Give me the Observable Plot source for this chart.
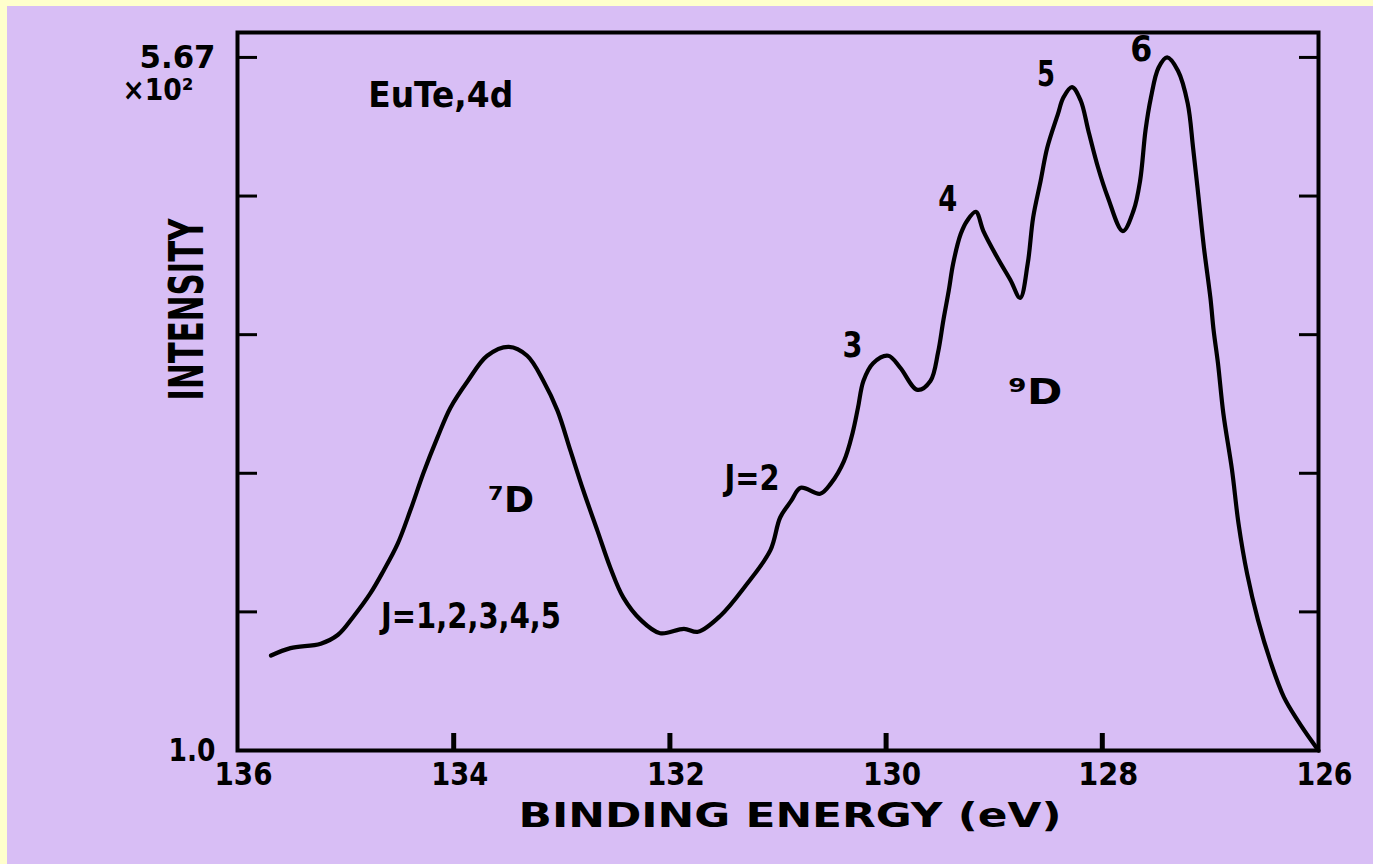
<!DOCTYPE html>
<html><head><meta charset="utf-8">
<script src="https://cdn.jsdelivr.net/npm/d3@7"></script>
<script src="https://cdn.jsdelivr.net/npm/@observablehq/plot@0.6"></script>
<style>
html,body{margin:0;padding:0;background:#ffffcc;overflow:hidden;}
#chart{position:absolute;left:7px;top:6px;width:1366px;height:858px;background:#d8bef5;}
</style></head><body><div id="chart"></div>
<script>
// Binding energy (eV) and intensity (×10², axis from 1.0 to 5.67)
const energy = [135.69,135.51,135.23,135.07,134.93,134.77,134.65,134.52,134.40,134.28,134.15,134.03,133.87,133.69,133.49,133.32,133.17,133.04,132.92,132.80,132.67,132.55,132.43,132.27,132.09,131.87,131.74,131.53,131.30,131.07,130.98,130.88,130.79,130.61,130.51,130.39,130.31,130.26,130.21,130.12,129.98,129.87,129.71,129.59,129.52,129.47,129.42,129.38,129.31,129.25,129.17,129.10,128.97,128.85,128.76,128.69,128.64,128.57,128.51,128.41,128.36,128.28,128.20,128.13,128.04,127.95,127.81,127.71,127.65,127.60,127.55,127.48,127.40,127.30,127.21,127.16,127.11,127.06,127.00,126.97,126.93,126.88,126.80,126.74,126.66,126.56,126.44,126.32,126.19,126.05,126.00];
const intensity = [1.64,1.69,1.72,1.78,1.90,2.06,2.21,2.39,2.62,2.87,3.11,3.31,3.49,3.66,3.72,3.66,3.49,3.29,3.02,2.75,2.48,2.23,2.03,1.88,1.79,1.82,1.80,1.91,2.11,2.35,2.57,2.68,2.77,2.73,2.80,2.95,3.14,3.31,3.49,3.61,3.66,3.58,3.43,3.49,3.68,3.90,4.10,4.28,4.48,4.57,4.63,4.50,4.32,4.17,4.05,4.28,4.59,4.84,5.06,5.29,5.40,5.47,5.38,5.18,4.93,4.73,4.50,4.64,4.84,5.18,5.40,5.60,5.67,5.58,5.36,5.06,4.73,4.39,4.05,3.83,3.61,3.27,2.89,2.53,2.19,1.88,1.59,1.36,1.20,1.05,1.00];

const xTickMarks = [134, 132, 130, 128];
const xTickLabels = [136, 134, 132, 130, 128, 126];
const yTickMarks = [1.934, 2.868, 3.802, 4.736, 5.67];
const yLabelValues = [1.0, 5.67];
const yLabelTexts = ["1.0", "5.67"];
const yUnitText = "×10²";
const xTitle = "BINDING ENERGY (eV)";
const yTitle = "INTENSITY";

const annText = ["EuTe,4d", "6", "5", "4", "3", "J=2", "⁹D", "⁷D", "J=1,2,3,4,5"];
const annX = [134.12, 127.64, 128.52, 129.43, 130.31, 131.24, 128.62, 133.47, 133.84];
const annY = [5.41, 5.72, 5.55, 4.71, 3.73, 2.83, 3.41, 2.68, 1.90];

const spectrum = energy.map((e, i) => ({e, v: intensity[i]}));
const notes = annText.map((t, i) => ({t, x: annX[i], y: annY[i]}));

const svg = Plot.plot({
  width: 1366, height: 858,
  marginLeft: 230, marginRight: 55, marginTop: 26, marginBottom: 114,
  style: {background: "#d8bef5", fontFamily: "DejaVu Sans", color: "black"},
  x: {domain: [136, 126]},
  y: {domain: [1.0, 5.838]},
  marks: [
    Plot.frame({stroke: "black", strokeWidth: 4}),
    // inward ticks
    Plot.axisY({anchor: "left", ticks: yTickMarks, tickSize: 20, dx: 20, strokeWidth: 3, tickFormat: () => "", label: null}),
    Plot.axisY({anchor: "right", ticks: yTickMarks, tickSize: 20, dx: -20, strokeWidth: 3, tickFormat: () => "", label: null}),
    Plot.axisX({anchor: "bottom", ticks: xTickMarks, tickSize: 17, dy: -17, strokeWidth: 5, tickFormat: () => "", label: null}),
    // tick labels
    Plot.axisX({anchor: "bottom", ticks: xTickLabels, tickSize: 0, tickPadding: 12, dx: 6, fontSize: 32, fontWeight: "bold", tickFormat: d => String(d), label: null}),
    Plot.axisY({anchor: "left", ticks: yLabelValues, tickSize: 0, tickPadding: 22, fontSize: 32, fontWeight: "bold", tickFormat: d => yLabelTexts[yLabelValues.indexOf(d)], label: null}),
    Plot.text([yUnitText], {x: 136, y: 5.67, text: d => d, dx: -44, dy: 33, textAnchor: "end", fontSize: 30, fontWeight: "bold"}),
    // axis titles
    Plot.text([yTitle], {frameAnchor: "left", text: d => d, rotate: -90, dx: -50, dy: 9, fontSize: 48, fontWeight: "bold"}),
    Plot.text([xTitle], {frameAnchor: "bottom", text: d => d, dx: 12, dy: 76, fontSize: 33, fontWeight: "bold"}),
    // curve
    Plot.line(spectrum, {x: "e", y: "v", curve: "catmull-rom", stroke: "black", strokeWidth: 4.2}),
    // annotations
    Plot.text(notes, {x: "x", y: "y", text: "t", fontSize: 35, fontWeight: "bold"})
  ]
});

const lengths = {"136": 58, "134": 57, "132": 58, "130": 58, "128": 60, "126": 56,
  "1.0": 47, "5.67": 76, "×10²": 71, "INTENSITY": 182, "BINDING ENERGY (eV)": 543,
  "EuTe,4d": 145, "6": 22, "5": 18, "4": 19, "3": 20, "J=2": 55, "⁹D": 54, "⁷D": 46, "J=1,2,3,4,5": 180};
d3.select(svg).selectAll("text").each(function() {
  const t = this.textContent;
  if (lengths[t]) {
    this.setAttribute("textLength", lengths[t]);
    this.setAttribute("lengthAdjust", "spacingAndGlyphs");
  }
});
document.getElementById("chart").appendChild(svg);
</script></body></html>
